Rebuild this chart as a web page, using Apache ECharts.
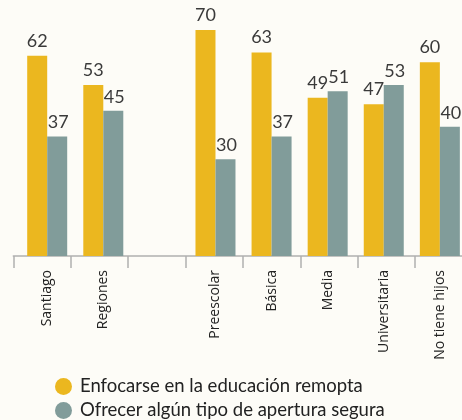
<!DOCTYPE html>
<html>
<head>
<meta charset="utf-8">
<script src="https://cdn.jsdelivr.net/npm/echarts@6/dist/echarts.min.js"></script>
<style>
  html, body { margin: 0; padding: 0; background: #FDFCF7; }
  #chart { width: 462px; height: 420px; }
</style>
</head>
<body>
<div id="chart"></div>
<script>
// Categories (the blank slot separates the region group from the children group)
const categories = ['Santiago', 'Regiones', '', 'Preescolar', 'Básica', 'Media', 'Universitaria', 'No tiene hijos'];
const seriesNames = ['Enfocarse en la educación remopta', 'Ofrecer algún tipo de apertura segura'];
const remota = [62, 53, '-', 70, 63, 49, 47, 60];
const apertura = [37, 45, '-', 30, 37, 51, 53, 40];

const YELLOW = '#EBB71F';
const GRAY = '#819C9A';

const legendText = { fontFamily: 'Lato', fontSize: 18.5, color: '#222', padding: [0, 0, 0, 3] };
const legendBase = { left: 55, padding: 0, icon: 'circle', itemWidth: 17, itemHeight: 17, textStyle: legendText };

const chart = echarts.init(document.getElementById('chart'));
chart.setOption({
  backgroundColor: '#FDFCF7',
  animation: false,
  legend: [
    Object.assign({ top: 377, data: [seriesNames[0]] }, legendBase),
    Object.assign({ top: 401, data: [seriesNames[1]] }, legendBase)
  ],
  grid: [
    // axis line and ticks; the last band runs past the right edge
    { left: 13.3, right: -10.5, top: 30, bottom: 164, outerBoundsMode: 'none', containLabel: false },
    // bars and category labels
    { left: 19.15, right: -5.9, top: 30, bottom: 164, outerBoundsMode: 'none', containLabel: false }
  ],
  xAxis: [
    {
      type: 'category', gridIndex: 0, data: categories,
      axisLine: { lineStyle: { color: '#B0B0B0', width: 1.5 } },
      axisTick: { show: true, interval: 0, length: 12, lineStyle: { color: '#B0B0B0', width: 1.5 } },
      axisLabel: { show: false, interval: 0 }
    },
    {
      type: 'category', gridIndex: 1, data: categories,
      axisLine: { show: false },
      axisTick: { show: false },
      axisLabel: {
        interval: 0, rotate: 90, margin: 14, fontFamily: 'Open Sans', fontSize: 14, color: '#222'
      }
    }
  ],
  yAxis: [
    { type: 'value', gridIndex: 0, min: 0, max: 70, show: false },
    { type: 'value', gridIndex: 1, min: 0, max: 70, show: false }
  ],
  series: [
    {
      name: seriesNames[0], type: 'bar', xAxisIndex: 1, yAxisIndex: 1,
      data: remota, barWidth: 20, barGap: '0%',
      itemStyle: { color: YELLOW },
      label: { show: true, position: 'top', distance: 6, fontFamily: 'Lato', fontSize: 18, color: '#3A3A3A' }
    },
    {
      name: seriesNames[1], type: 'bar', xAxisIndex: 1, yAxisIndex: 1,
      data: apertura, barWidth: 20, barGap: '0%',
      itemStyle: { color: GRAY },
      label: { show: true, position: 'top', distance: 5, offset: [1, 0], fontFamily: 'Lato', fontSize: 18, color: '#3A3A3A' }
    }
  ]
});
</script>
</body>
</html>
